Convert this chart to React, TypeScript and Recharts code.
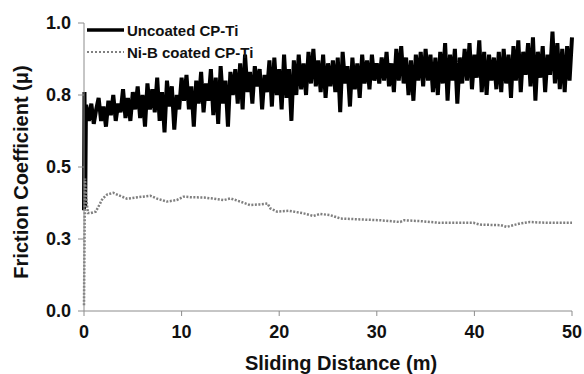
import { Line, LineChart, XAxis, YAxis } from "recharts";

const xTicks = [0, 10, 20, 30, 40, 50];
const yTicks = [0, 0.25, 0.5, 0.75, 1];
const yTickLabels = ["0.0", "0.3", "0.5", "0.8", "1.0"];

// uncoated CP-Ti: run-in spike at the start, then samples every 0.25 m
const uncoatedStartX = [0, 0.05, 0.12, 0.2];
const uncoatedStartY = [0.35, 0.76, 0.36, 0.71];
const uncoatedStep = 0.25;
const uncoatedY = [
  0.71, 0.66, 0.72, 0.65, 0.70, 0.74, 0.66, 0.71, 0.64, 0.73, 0.68, 0.75, 0.66, 0.72, 0.69, 0.77, 0.67, 0.74, 0.66, 0.76,
  0.70, 0.78, 0.67, 0.75, 0.64, 0.79, 0.70, 0.77, 0.69, 0.81, 0.66, 0.76, 0.62, 0.80, 0.71, 0.78, 0.63, 0.75, 0.70, 0.81,
  0.73, 0.82, 0.70, 0.78, 0.64, 0.80, 0.72, 0.83, 0.69, 0.79, 0.73, 0.84, 0.68, 0.81, 0.65, 0.85, 0.72, 0.80, 0.64, 0.83,
  0.75, 0.84, 0.72, 0.86, 0.70, 0.89, 0.76, 0.83, 0.72, 0.85, 0.78, 0.84, 0.70, 0.82, 0.76, 0.87, 0.71, 0.88, 0.75, 0.84,
  0.70, 0.89, 0.74, 0.84, 0.66, 0.87, 0.75, 0.89, 0.77, 0.86, 0.75, 0.90, 0.79, 0.91, 0.78, 0.87, 0.76, 0.89, 0.74, 0.86,
  0.78, 0.87, 0.76, 0.88, 0.69, 0.90, 0.79, 0.85, 0.71, 0.88, 0.77, 0.86, 0.74, 0.89, 0.79, 0.87, 0.77, 0.89, 0.80, 0.86,
  0.79, 0.88, 0.80, 0.90, 0.78, 0.86, 0.76, 0.91, 0.80, 0.92, 0.79, 0.88, 0.75, 0.87, 0.73, 0.89, 0.80, 0.90, 0.78, 0.91,
  0.80, 0.89, 0.76, 0.88, 0.75, 0.90, 0.79, 0.93, 0.73, 0.89, 0.80, 0.91, 0.72, 0.88, 0.79, 0.91, 0.80, 0.93, 0.77, 0.89,
  0.81, 0.94, 0.76, 0.90, 0.75, 0.89, 0.80, 0.88, 0.77, 0.90, 0.76, 0.91, 0.79, 0.89, 0.74, 0.92, 0.80, 0.94, 0.76, 0.90,
  0.82, 0.93, 0.78, 0.95, 0.73, 0.90, 0.81, 0.92, 0.76, 0.89, 0.82, 0.97, 0.79, 0.93, 0.77, 0.91, 0.76, 0.92, 0.80, 0.95,
];

// Ni-B coated CP-Ti
const coatedX = [
  0, 0.1, 0.2, 0.4, 0.7, 1.2, 1.6, 1.9, 2.4, 3.0, 3.7, 4.4, 5.5, 6.8, 7.5, 8.5, 9.5, 10.2, 11, 12.3, 13.3, 14.3, 15, 16, 17,
  18, 18.8, 19.1, 19.8, 21, 22.5, 23.5, 24.2, 25.2, 26.3, 28.3, 30.4, 32.4, 32.8, 34.5, 36.5, 38.6, 39.9, 40.6, 42.7, 43.3,
  44.7, 45.7, 46.8, 48.1, 50,
];
const coatedY = [
  0.02, 0.46, 0.4, 0.34, 0.34, 0.345, 0.37, 0.39, 0.405, 0.41, 0.4, 0.39, 0.395, 0.4, 0.39, 0.38, 0.385, 0.397, 0.395, 0.394,
  0.39, 0.385, 0.391, 0.38, 0.368, 0.37, 0.373, 0.356, 0.345, 0.348, 0.339, 0.33, 0.337, 0.333, 0.321, 0.318, 0.315, 0.309,
  0.315, 0.312, 0.306, 0.306, 0.306, 0.3, 0.298, 0.292, 0.304, 0.309, 0.307, 0.306, 0.306,
];

const uncoatedData = [
  ...uncoatedStartX.map((x, i) => ({ x, mu: uncoatedStartY[i] })),
  ...uncoatedY.map((mu, i) => ({ x: (i + 1) * uncoatedStep, mu })),
];
const coatedData = coatedX.map((x, i) => ({ x, mu: coatedY[i] }));

const font = "'Liberation Sans', Arial, sans-serif";
const ink = "#111";
const axisGray = "#8c8c8c";

const legendRows = [
  { label: "Uncoated CP-Ti", stroke: "#000", width: 3.5, dash: undefined },
  { label: "Ni-B coated CP-Ti", stroke: "#808080", width: 2, dash: "2 2" },
];

function LegendBox() {
  return (
    <div
      style={{
        position: "absolute",
        left: 86,
        top: 19,
        fontFamily: font,
        fontWeight: 700,
        fontSize: 15,
        color: ink,
      }}
    >
      {legendRows.map((r) => (
        <div key={r.label} style={{ display: "flex", alignItems: "center", height: 22 }}>
          <svg width={38} height={10} style={{ marginRight: 3 }}>
            <line x1={1} y1={5} x2={38} y2={5} stroke={r.stroke} strokeWidth={r.width} strokeDasharray={r.dash} />
          </svg>
          <span>{r.label}</span>
        </div>
      ))}
    </div>
  );
}

export default function App() {
  return (
    <div style={{ position: "absolute", left: 0, top: 0, width: 584, height: 374, background: "#fff" }}>
      <LineChart width={584} height={374} margin={{ top: 23, right: 12, left: 24, bottom: 23 }}>
        <XAxis
          type="number"
          dataKey="x"
          domain={[0, 50]}
          ticks={xTicks}
          allowDuplicatedCategory={false}
          stroke={axisGray}
          tickSize={5}
          tickMargin={9}
          height={40}
          tick={{ fill: ink, fontSize: 18, fontWeight: 700, fontFamily: font }}
        />
        <YAxis
          type="number"
          domain={[0, 1]}
          ticks={yTicks}
          tickFormatter={(v) => yTickLabels[yTicks.indexOf(Number(v))] ?? ""}
          stroke={axisGray}
          tickSize={6}
          tickMargin={7}
          width={60}
          tick={{ fill: ink, fontSize: 18, fontWeight: 700, fontFamily: font }}
        />
        <Line
          data={uncoatedData}
          dataKey="mu"
          name="Uncoated CP-Ti"
          stroke="#000"
          strokeWidth={4}
          dot={false}
          isAnimationActive={false}
        />
        <Line
          data={coatedData}
          dataKey="mu"
          name="Ni-B coated CP-Ti"
          stroke="#7f7f7f"
          strokeWidth={2.5}
          strokeDasharray="2 1.5"
          dot={false}
          isAnimationActive={false}
        />
      </LineChart>
      <LegendBox />
      <div
        style={{
          position: "absolute",
          left: 21,
          top: 172,
          transform: "translate(-50%, -50%) rotate(-90deg)",
          whiteSpace: "nowrap",
          fontFamily: font,
          fontWeight: 700,
          fontSize: 20,
          color: ink,
        }}
      >
        Friction Coefficient (μ)
      </div>
      <div
        style={{
          position: "absolute",
          left: 341,
          top: 363,
          transform: "translate(-50%, -50%)",
          whiteSpace: "nowrap",
          fontFamily: font,
          fontWeight: 700,
          fontSize: 20,
          color: ink,
        }}
      >
        Sliding Distance (m)
      </div>
    </div>
  );
}
